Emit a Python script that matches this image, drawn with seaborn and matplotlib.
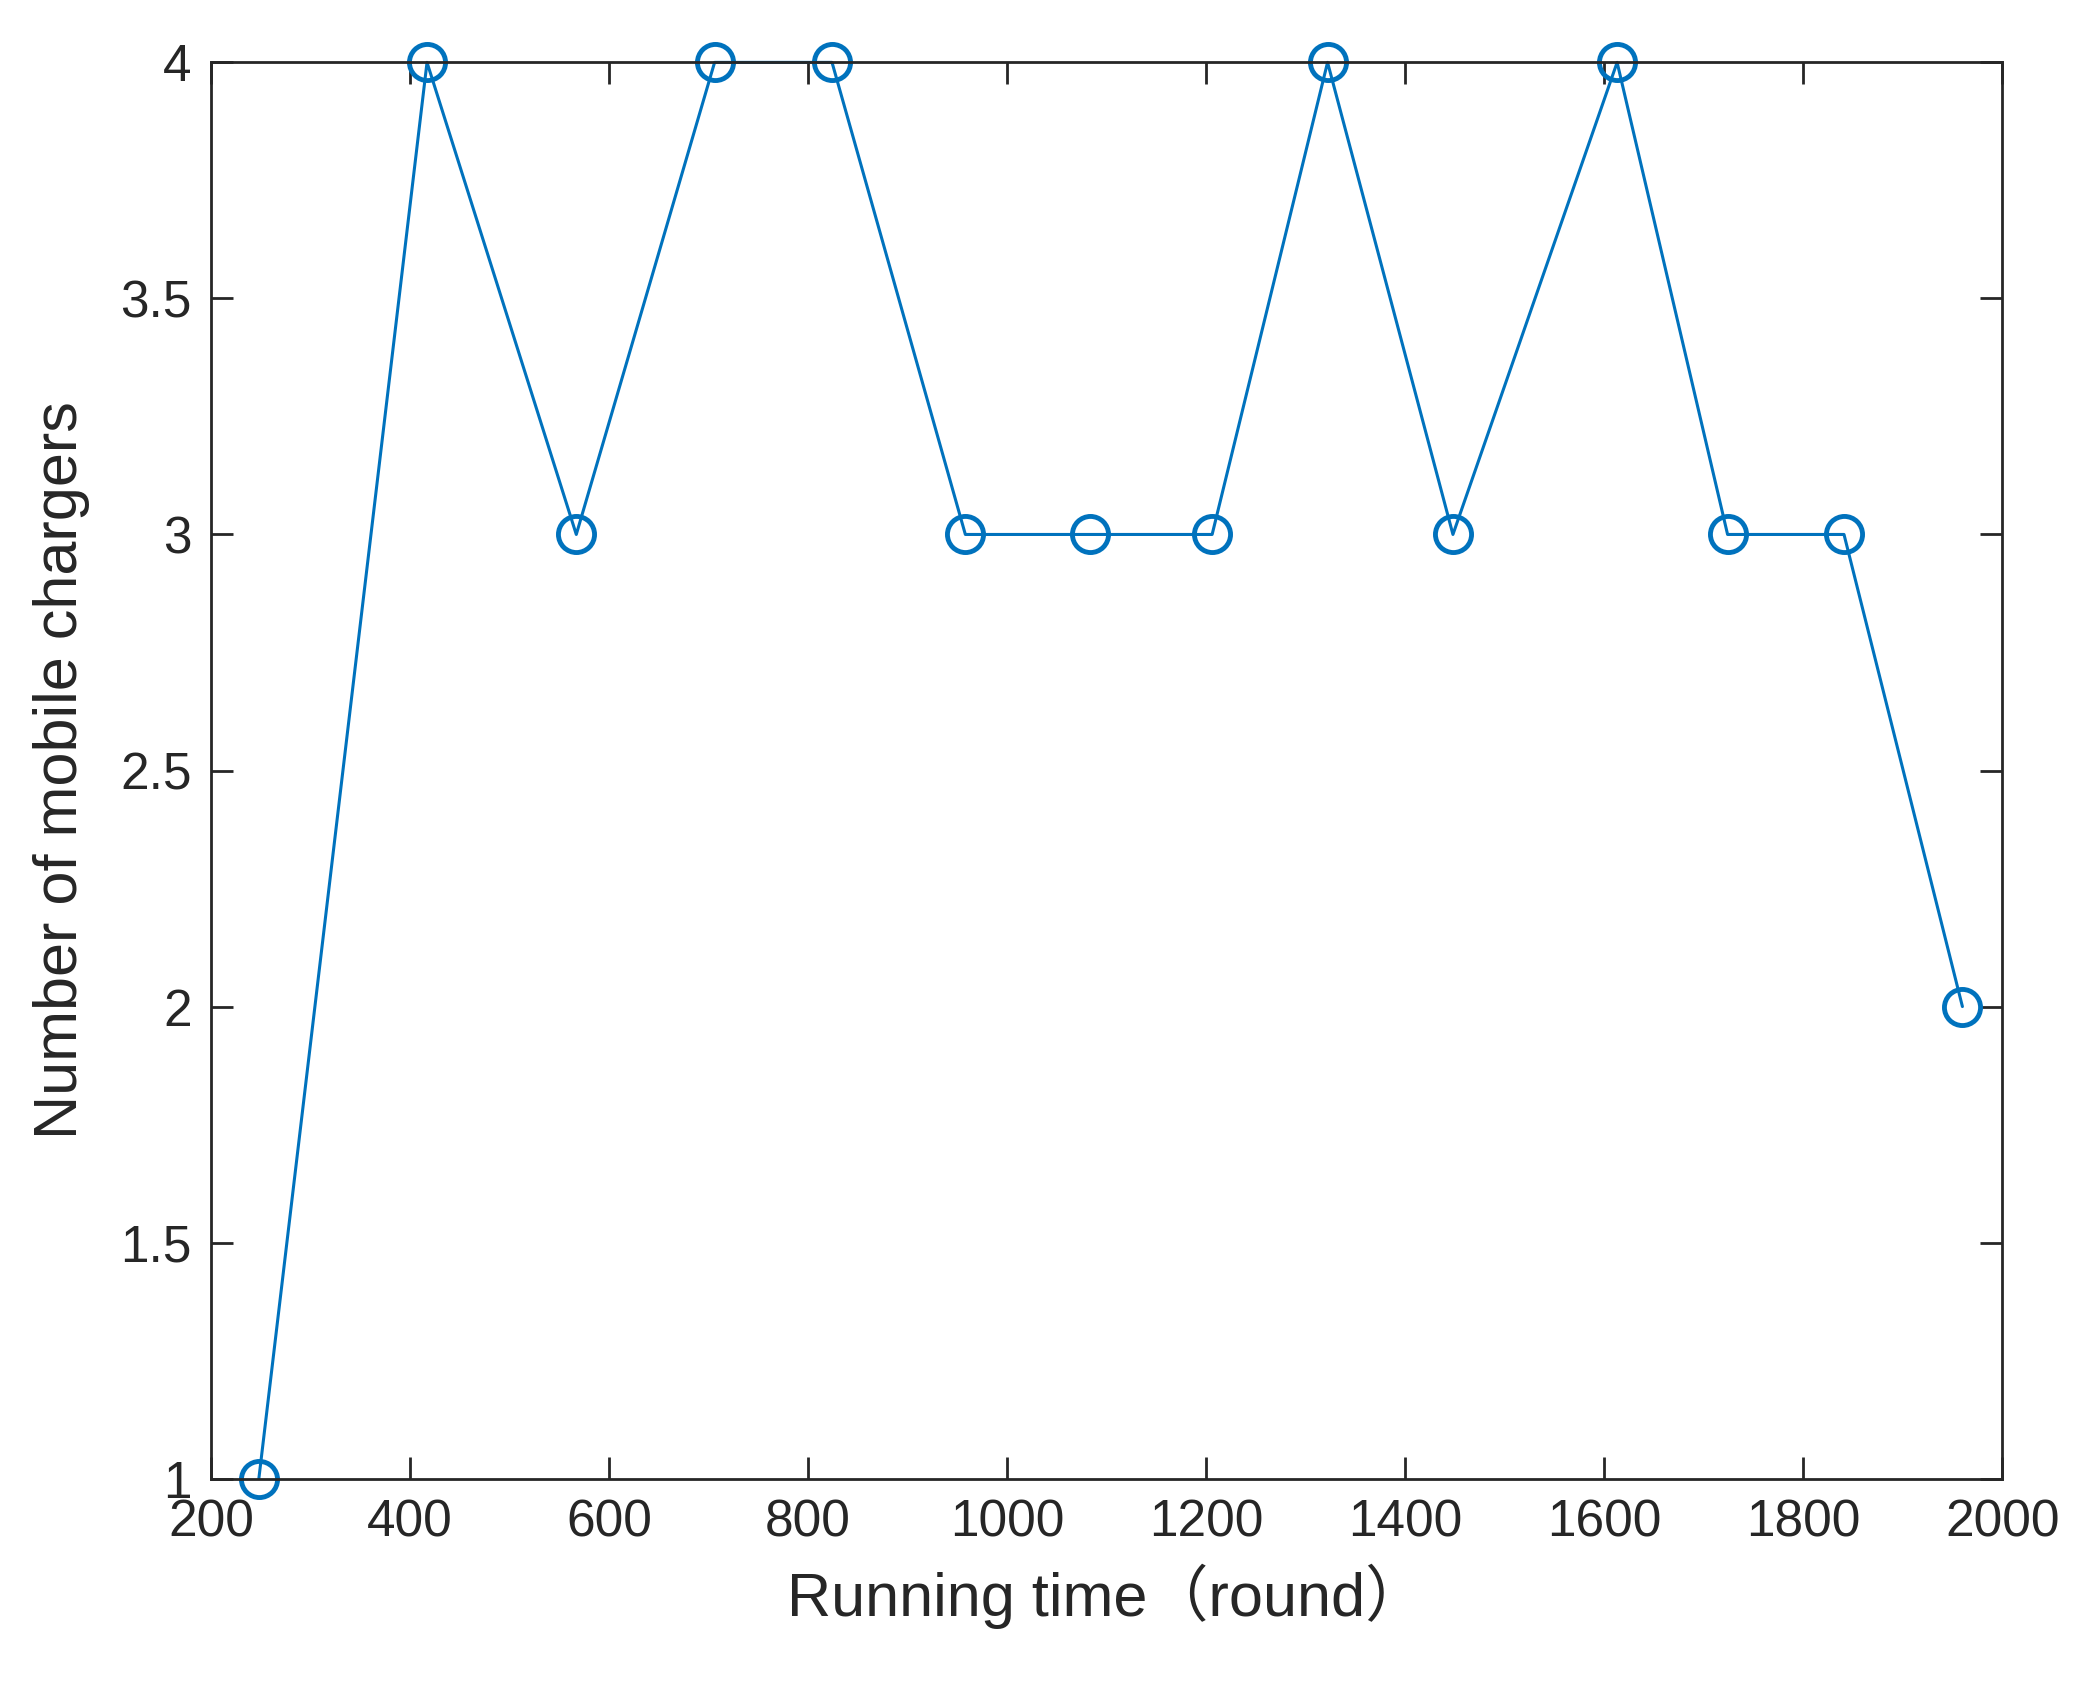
import matplotlib
matplotlib.use("Agg")
import matplotlib.pyplot as plt
import seaborn as sns
import pandas as pd

rounds = [248, 417, 567, 706, 824, 958, 1083, 1206, 1322, 1448, 1613, 1724, 1841, 1960]
chargers = [1, 4, 3, 4, 4, 3, 3, 3, 4, 3, 4, 3, 3, 2]
xticks = [200, 400, 600, 800, 1000, 1200, 1400, 1600, 1800, 2000]
yticks = [1, 1.5, 2, 2.5, 3, 3.5, 4]
ytick_labels = ["1", "1.5", "2", "2.5", "3", "3.5", "4"]

sns.set_theme(style="white")
plt.rcParams['font.family'] = ['Liberation Sans', 'Noto Sans CJK SC', 'DejaVu Sans']

df = pd.DataFrame({"x": rounds, "y": chargers})
fig = plt.figure(figsize=(20.9, 16.86), dpi=100)
ax = fig.add_axes([0.101, 0.123, 0.857, 0.840])
sns.lineplot(data=df, x="x", y="y", ax=ax, color="#0072BD", linewidth=2.2,
             marker="o", markersize=26, markerfacecolor="none",
             markeredgecolor="#0072BD", markeredgewidth=3.5, clip_on=False)
ax.set_xlim(200, 2000)
ax.set_ylim(1, 4)
ax.set_xticks(xticks)
ax.set_xticklabels([str(t) for t in xticks])
ax.set_yticks(yticks)
ax.set_yticklabels(ytick_labels)
ax.tick_params(direction="in", length=16, width=2, top=True, right=True,
               bottom=True, left=True, labelsize=37, colors="#262626", pad=14)
for s in ax.spines.values():
    s.set_color("#262626")
    s.set_linewidth(2)
ax.set_xlabel("Running time（round）", fontsize=44, color="#262626", labelpad=12)
ax.set_ylabel("Number of mobile chargers", fontsize=44, color="#262626", labelpad=22)
fig.savefig("out.png", dpi=100, facecolor="white")
